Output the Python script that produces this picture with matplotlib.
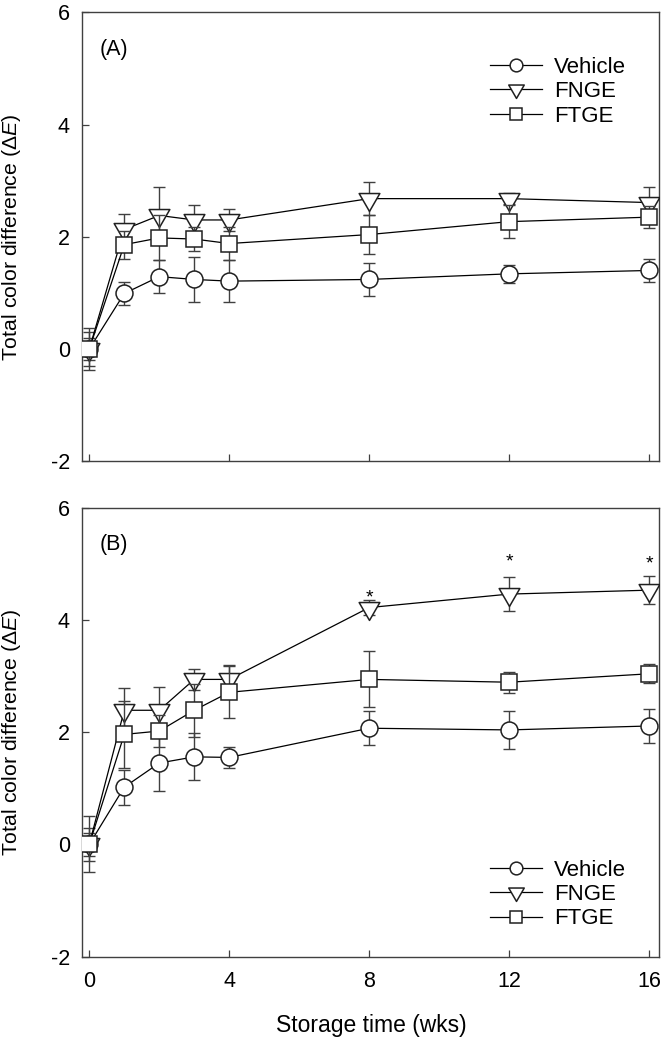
import matplotlib
matplotlib.use("Agg")
import matplotlib.pyplot as plt
from matplotlib.path import Path

plt.rcParams['font.family'] = ['Liberation Sans', 'DejaVu Sans']
plt.rcParams['mathtext.fontset'] = 'custom'
plt.rcParams['mathtext.rm'] = 'Liberation Sans'
plt.rcParams['mathtext.it'] = 'Liberation Sans:italic'
plt.rcParams['axes.unicode_minus'] = False

# storage time in weeks
weeks = [0, 1, 2, 3, 4, 8, 12, 16]
labels = ['Vehicle', 'FNGE', 'FTGE']

# panel (A)
veh_a = [0, 0.99, 1.29, 1.24, 1.21, 1.24, 1.34, 1.40]
veh_a_err = [0.31, 0.2, 0.3, 0.4, 0.37, 0.29, 0.16, 0.2]
fnge_a = [0, 2.13, 2.38, 2.30, 2.30, 2.68, 2.68, 2.61]
fnge_a_err = [0.2, 0.28, 0.5, 0.27, 0.2, 0.3, 0.1, 0.28]
ftge_a = [0, 1.86, 1.98, 1.96, 1.88, 2.04, 2.27, 2.35]
ftge_a_err = [0.38, 0.25, 0.4, 0.22, 0.3, 0.35, 0.3, 0.2]

# panel (B)
veh_b = [0, 1.02, 1.45, 1.56, 1.55, 2.07, 2.04, 2.11]
veh_b_err = [0.3, 0.31, 0.5, 0.42, 0.18, 0.3, 0.34, 0.3]
fnge_b = [0, 2.39, 2.39, 2.94, 2.94, 4.22, 4.46, 4.53]
fnge_b_err = [0.2, 0.39, 0.42, 0.19, 0.25, 0.14, 0.3, 0.25]
ftge_b = [0, 1.96, 2.02, 2.39, 2.71, 2.94, 2.89, 3.04]
ftge_b_err = [0.5, 0.59, 0.28, 0.47, 0.46, 0.5, 0.19, 0.17]

# significance marks in (B)
star_x = [8, 12, 16]
star_y = [4.39, 5.03, 4.99]

# down triangle centred on its centroid (like SigmaPlot)
tri = Path([(-1, 0.577), (1, 0.577), (0, -1.155), (-1, 0.577)],
           [Path.MOVETO, Path.LINETO, Path.LINETO, Path.CLOSEPOLY])
markers = ['o', tri, 's']
msizes = [12.2, 17.2, 12.2]
gray = '#404040'

fig = plt.figure(figsize=(6.62, 10.42), dpi=100)
axA = fig.add_axes([0.1246, 0.5573, 0.8716, 0.4309])
axB = fig.add_axes([0.1246, 0.0819, 0.8716, 0.4309])


def draw_panel(ax, series, errs):
    handles = []
    for i in range(3):
        ax.errorbar(weeks, series[i], yerr=errs[i], fmt='none', ecolor=gray,
                    elinewidth=1, capsize=4.5, capthick=1, zorder=2 + 2 * i)
        h, = ax.plot(weeks, series[i], color='black', lw=0.9, marker=markers[i],
                     ms=msizes[i], mfc='white', mec='#202020', mew=1.1,
                     zorder=3 + 2 * i, label=labels[i])
        handles.append(h)
    ax.set_xlim(-0.194, 16.3)
    ax.set_ylim(-2, 6)
    ax.set_xticks([0, 4, 8, 12, 16])
    ax.set_yticks([-2, 0, 2, 4, 6])
    ax.tick_params(direction='in', length=5, width=0.9, color=gray,
                   labelsize=15.5, top=False, right=False)
    ax.tick_params(axis='y', pad=9)
    ax.tick_params(axis='x', pad=10)
    for s in ax.spines.values():
        s.set_color(gray)
        s.set_linewidth(1)
    ax.set_ylabel('Total color difference (Δ$\\mathit{E}$)', fontsize=15.3)
    ax.yaxis.set_label_coords(-0.103, 0.5)
    return handles


hA = draw_panel(axA, [veh_a, fnge_a, ftge_a], [veh_a_err, fnge_a_err, ftge_a_err])
axA.tick_params(axis='x', labelbottom=False)
axA.text(0.029, 0.917, '(A)', transform=axA.transAxes, fontsize=15.5,
         ha='left', va='center')
axA.legend(handles=hA, loc='center left', bbox_to_anchor=(0.706, 0.823),
           frameon=False, fontsize=16, handlelength=2.35, handletextpad=0.55,
           labelspacing=0.15, borderpad=0, borderaxespad=0, markerscale=0.75)

hB = draw_panel(axB, [veh_b, fnge_b, ftge_b], [veh_b_err, fnge_b_err, ftge_b_err])
axB.text(0.029, 0.917, '(B)', transform=axB.transAxes, fontsize=15.5,
         ha='left', va='center')
for x, y in zip(star_x, star_y):
    axB.text(x, y, '*', fontsize=14, ha='center', va='center')
axB.legend(handles=hB, loc='center left', bbox_to_anchor=(0.706, 0.1385),
           frameon=False, fontsize=16, handlelength=2.35, handletextpad=0.55,
           labelspacing=0.15, borderpad=0, borderaxespad=0, markerscale=0.75)

fig.text((82.5 + 659.5) / 2 / 662, 1 - 1032 / 1042, 'Storage time (wks)',
         fontsize=16.5, ha='center', va='baseline')

fig.savefig('out.png', dpi=100)
